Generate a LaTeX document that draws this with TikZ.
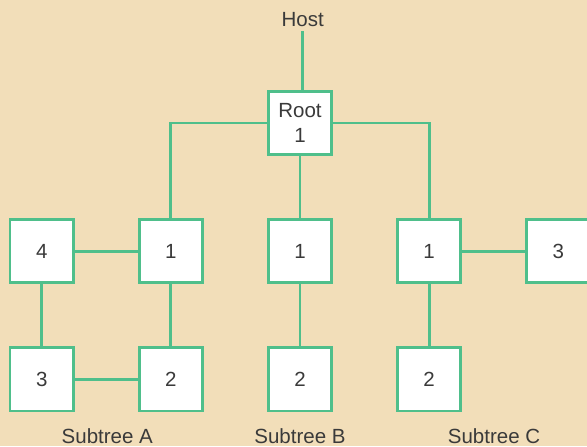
\documentclass[tikz,border=0pt]{standalone}
\usepackage{fontspec}
\setmainfont{Liberation Sans}
\usetikzlibrary{positioning}
\definecolor{paper}{HTML}{F2DEB9}
\definecolor{linkgreen}{HTML}{4FBF8B}
\definecolor{inkgray}{HTML}{3A3A3A}
\tikzset{
  pe/.style  ={rectangle, draw=linkgreen, fill=white, line width=2.4pt,
               minimum width=1.9cm, minimum height=1.9cm, inner sep=0pt,
               align=center, text=inkgray, font=\fontsize{17.5}{21}\selectfont},
  tag/.style ={text=inkgray, font=\fontsize{17.5}{21}\selectfont},
  link/.style={draw=linkgreen, line width=2.4pt},
}
\begin{document}
\begin{tikzpicture}[node distance=1.86cm and 1.89cm]
    \fill[paper] (0,0) rectangle (17.61,-13.38);
    \useasboundingbox (0,0) rectangle (17.61,-13.38);

    \node[pe] (root) at (9.0,-3.69) {Root\\1};
    \node[tag] (host) at (9.08,-0.6) {Host};

    \node[pe, below=of root] (b1) {1};
    \node[pe, left=of b1] (a1) {1};
    \node[pe, left=of a1] (a4) {4};
    \node[pe, right=of b1] (c1) {1};
    \node[pe, right=of c1] (c3) {3};
    \node[pe, below=of a4] (a3) {3};
    \node[pe, below=of a1] (a2) {2};
    \node[pe, below=of b1] (b2) {2};
    \node[pe, below=of c1] (c2) {2};

    \node[tag] (suba) at (3.22,-13.07) {Subtree A};
    \node[tag] (subb) at (9.0,-13.07) {Subtree B};
    \node[tag] (subc) at (14.82,-13.07) {Subtree C};

    \draw[link] (host.south) -- (host.south |- root.north);
    \draw[link] (root.west) -| (a1.north);
    \draw[link] (root) -- (b1);
    \draw[link] (root.east) -| (c1.north);
    \draw[link] (a4) -- (a1);
    \draw[link] (a4) -- (a3);
    \draw[link] (a1) -- (a2);
    \draw[link] (a3) -- (a2);
    \draw[link] (b1) -- (b2);
    \draw[link] (c1) -- (c3);
    \draw[link] (c1) -- (c2);
\end{tikzpicture}
\end{document}
